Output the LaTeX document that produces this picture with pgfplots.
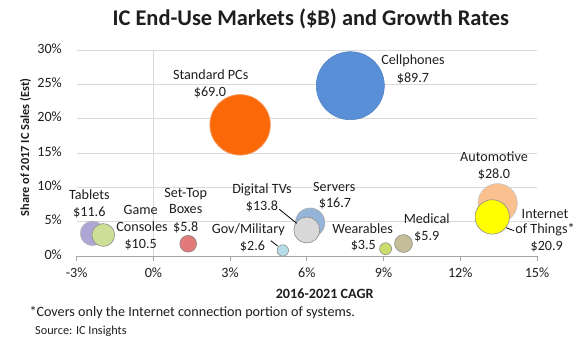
\documentclass[border=0pt]{standalone}
\usepackage{fontspec}
\setmainfont{Carlito}
\usepackage{pgfplots}
\pgfplotsset{compat=1.18}
\definecolor{txt}{RGB}{30,30,30}
\definecolor{gridgray}{RGB}{217,217,217}
\definecolor{axgray}{RGB}{166,166,166}
\definecolor{cCell}{RGB}{88,143,214}
\definecolor{cCellB}{RGB}{80,130,200}
\definecolor{cPC}{RGB}{250,104,8}
\definecolor{cPCB}{RGB}{245,150,90}
\definecolor{cTab}{RGB}{174,167,214}
\definecolor{cGame}{RGB}{205,223,150}
\definecolor{cSet}{RGB}{226,122,122}
\definecolor{cGov}{RGB}{183,222,232}
\definecolor{cSrv}{RGB}{149,180,218}
\definecolor{cDTV}{RGB}{216,216,216}
\definecolor{cWear}{RGB}{200,221,110}
\definecolor{cMed}{RGB}{196,189,151}
\definecolor{cAuto}{RGB}{250,192,144}
\definecolor{cIoT}{RGB}{255,255,0}
\definecolor{bord}{RGB}{140,140,140}
\begin{document}
\begin{tikzpicture}[
  lbl/.style={font=\fontsize{14.2}{17}\selectfont, text=txt, inner sep=0pt, text height=0.65em, text depth=0pt, anchor=center}]
\path[use as bounding box] (0,0) rectangle (587bp,343bp);
\begin{axis}[
  at={(76.7bp,87bp)}, anchor=south west,
  scale only axis, width=460.3bp, height=206bp,
  xmin=-3, xmax=15, ymin=0, ymax=30,
  clip=false,
  axis x line*=bottom, axis y line*=left,
  y axis line style={draw=none},
  x axis line style={draw=axgray, line width=0.8bp, -},
  xtick={-3,0,3,6,9,12,15}, ytick={0,5,10,15,20,25,30},
  xticklabels={-3\%,0\%,3\%,6\%,9\%,12\%,15\%},
  yticklabels={0\%,5\%,10\%,15\%,20\%,25\%,30\%},
  /pgf/number format/assume math mode=true,
  xtick align=outside, major tick length=5bp,
  xtick style={draw=axgray, line width=0.8bp},
  ytick style={draw=none},
  ymajorgrids, major grid style={draw=gridgray, line width=0.8bp},
  tick label style={font=\fontsize{14.2}{17}\selectfont, text=txt, inner sep=0pt, text height=0.65em, text depth=0pt},
  xticklabel style={anchor=north, yshift=-9.5bp},
  yticklabel style={anchor=east, xshift=-14.7bp},
]
\draw[gridgray, line width=0.8bp] (axis cs:0,0) -- (axis cs:0,30);
\addplot[only marks, mark=*, mark size=34bp, mark options={fill=cCell, draw=cCellB, line width=0.6bp}] coordinates {(7.70,24.8)};
\addplot[only marks, mark=*, mark size=30.2bp, mark options={fill=cPC, draw=cPCB, line width=0.8bp}] coordinates {(3.39,19.1)};
\addplot[only marks, mark=*, mark size=12.3bp, mark options={fill=cTab, draw=bord!60, line width=0.6bp}] coordinates {(-2.38,3.3)};
\addplot[only marks, mark=*, mark size=11.4bp, mark options={fill=cGame, draw=bord, line width=0.6bp}] coordinates {(-1.96,3.06)};
\addplot[only marks, mark=*, mark size=8.4bp, mark options={fill=cSet, draw=bord, line width=0.6bp}] coordinates {(1.36,1.78)};
\addplot[only marks, mark=*, mark size=5.7bp, mark options={fill=cGov, draw=bord, line width=0.6bp}] coordinates {(5.06,0.8)};
\addplot[only marks, mark=*, mark size=14.7bp, mark options={fill=cSrv, draw=bord!70, line width=0.6bp}] coordinates {(6.13,4.85)};
\addplot[only marks, mark=*, mark size=13bp, mark options={fill=cDTV, draw=bord, line width=0.6bp}] coordinates {(6.0,3.79)};
\addplot[only marks, mark=*, mark size=6bp, mark options={fill=cWear, draw=bord, line width=0.6bp}] coordinates {(9.08,1.06)};
\addplot[only marks, mark=*, mark size=8.9bp, mark options={fill=cMed, draw=bord, line width=0.6bp}] coordinates {(9.78,1.82)};
\addplot[only marks, mark=*, mark size=19.7bp, mark options={fill=cAuto, draw=bord!50, line width=0.6bp}] coordinates {(13.46,7.68)};
\addplot[only marks, mark=*, mark size=17.2bp, mark options={fill=cIoT, draw=bord, line width=0.6bp}] coordinates {(13.25,5.69)};
\end{axis}
% title and axis titles
\node[font=\fontsize{22.5}{26}\selectfont\bfseries, text=txt, inner sep=0pt, text height=0.65em, text depth=0pt] at (310.8bp,320.8bp) {IC End-Use Markets (\$B) and Growth Rates};
\node[font=\fontsize{12.4}{15}\selectfont\bfseries, text=txt, inner sep=0pt, text height=0.65em, text depth=0pt, rotate=90] at (26bp,195.5bp) {Share of 2017 IC Sales (Est)};
\node[font=\fontsize{14.2}{17}\selectfont\bfseries, text=txt, inner sep=0pt, text height=0.65em, text depth=0pt] at (324.7bp,47.8bp) {2016-2021 CAGR};
\node[font=\fontsize{14.2}{17}\selectfont, text=txt, inner sep=0pt, text height=0.65em, text depth=0pt, anchor=west] at (29.3bp,29.7bp) {*Covers only the Internet connection portion of systems.};
\node[font=\fontsize{12.3}{14}\selectfont, text=txt, inner sep=0pt, text height=0.65em, text depth=0pt, anchor=west] at (35bp,11.3bp) {Source: IC Insights};
% bubble labels
\node[lbl] at (210.7bp,267bp) {Standard PCs};
\node[lbl] at (210bp,249.7bp) {\$69.0};
\node[lbl] at (413bp,281.3bp) {Cellphones};
\node[lbl] at (413bp,263.7bp) {\$89.7};
\node[lbl] at (89.3bp,146.3bp) {Tablets};
\node[lbl] at (89.3bp,129.7bp) {\$11.6};
\node[lbl] at (140.7bp,131.3bp) {Game};
\node[lbl] at (142bp,115bp) {Consoles};
\node[lbl] at (140.7bp,98bp) {\$10.5};
\node[lbl] at (185.7bp,149bp) {Set-Top};
\node[lbl] at (185.7bp,132.3bp) {Boxes};
\node[lbl] at (185.7bp,114.7bp) {\$5.8};
\node[lbl] at (248.3bp,112.3bp) {Gov/Military};
\node[lbl] at (252.5bp,95.7bp) {\$2.6};
\node[lbl] at (262bp,152.3bp) {Digital TVs};
\node[lbl] at (262bp,135.3bp) {\$13.8};
\node[lbl] at (334.3bp,154.7bp) {Servers};
\node[lbl] at (335bp,139bp) {\$16.7};
\node[lbl] at (362.7bp,113bp) {Wearables};
\node[lbl] at (363.3bp,96.3bp) {\$3.5};
\node[lbl] at (426.7bp,122.3bp) {Medical};
\node[lbl] at (426.7bp,105.7bp) {\$5.9};
\node[lbl] at (494bp,184.7bp) {Automotive};
\node[lbl] at (494bp,168bp) {\$28.0};
\node[lbl] at (545bp,128bp) {Internet};
\node[lbl] at (545bp,112.3bp) {of Things*};
\node[lbl] at (546.7bp,95.7bp) {\$20.9};
% leader lines
\draw[black, line width=0.8bp] (279.3bp,133.7bp) -- (296.7bp,119.7bp);
\draw[black, line width=0.8bp] (270.7bp,102.3bp) -- (277.7bp,97bp);
\draw[black, line width=0.8bp] (506bp,115.3bp) -- (514bp,112.3bp);
\end{tikzpicture}
\end{document}
